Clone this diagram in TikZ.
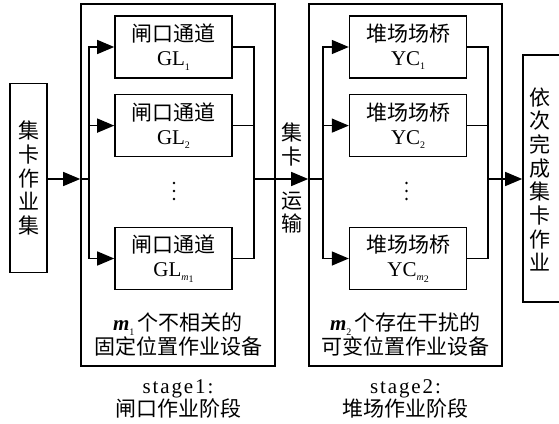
\documentclass[tikz,border=0pt]{standalone}
\usepackage{fontspec}
\setmainfont{Liberation Serif}
\newfontfamily\cjk{Noto Sans CJK SC}
\usetikzlibrary{arrows.meta}
\usetikzlibrary{positioning}

\newcommand{\lowidx}[1]{\raisebox{-0.45ex}{\fontsize{10}{10}\selectfont #1}}
\newcommand{\mcount}[1]{\textbf{\textit{m}}\raisebox{-0.45ex}{\fontsize{10}{10}\selectfont #1}\,}

\begin{document}
\begin{tikzpicture}[x=1pt,y=-1pt,
  box/.style={draw, line width=1.6pt, inner sep=0pt},
  dev/.style={box, minimum width=117pt, minimum height=62pt, align=center, font=\fontsize{21}{24}\selectfont},
  col/.style={align=center, inner sep=0pt, font=\cjk\fontsize{21}{23.7}\selectfont},
  ln/.style={line width=1.4pt},
  arr/.style={line width=1.4pt, -{Triangle[length=17pt,width=14pt]}}]
\useasboundingbox (0,0) rectangle (559,423);

% truck jobs in
\node[box, minimum width=37pt, minimum height=189pt] (jk) at (28.5,178) {};
\node[col] (jktxt) at (28.5,178) {集\\卡\\作\\业\\集};

% stage 1: gate lanes
\node[box, minimum width=194pt, minimum height=362pt] (s1) at (178,185) {};
\node[dev] (gl1) at (173.5,47) {{\cjk 闸口通道}\\GL\lowidx{1}};
\node[dev, below=15pt of gl1] (gl2) {{\cjk 闸口通道}\\GL\lowidx{2}};
\node[dev] (glm) at (173.5,258.5) {{\cjk 闸口通道}\\GL\lowidx{\textit{m}\lowidx{1}}};
\node[align=center, inner sep=0pt, font=\fontsize{21}{24}\selectfont] (lab1) at (178,335)
  {\mcount{1}{\cjk 个不相关的}\\{\cjk 固定位置作业设备}};

% stage 2: yard cranes
\node[box, minimum width=193pt, minimum height=362pt] (s2) at (405.5,185) {};
\node[dev, right=116pt of gl1] (yc1) {{\cjk 堆场场桥}\\YC\lowidx{1}};
\node[dev, right=116pt of gl2] (yc2) {{\cjk 堆场场桥}\\YC\lowidx{2}};
\node[dev, right=116pt of glm] (ycm) {{\cjk 堆场场桥}\\YC\lowidx{\textit{m}\lowidx{2}}};
\node[align=center, inner sep=0pt, font=\fontsize{21}{24}\selectfont] (lab2) at (405.5,335)
  {\mcount{2}{\cjk 个存在干扰的}\\{\cjk 可变位置作业设备}};

% stage names
\node[align=center, inner sep=0pt, font=\fontsize{21}{22}\selectfont] (st1) at (178,399)
  {{\addfontfeatures{LetterSpace=9}stage1:}\\{\cjk 闸口作业阶段}};
\node[align=center, inner sep=0pt, font=\fontsize{21}{22}\selectfont] (st2) at (405.5,399)
  {{\addfontfeatures{LetterSpace=9}stage2:}\\{\cjk 堆场作业阶段}};

% transfer between stages
\node[col] (mv1) at (292,144.5) {集\\卡};
\node[col] (mv2) at (292,212.5) {运\\输};

% finished jobs
\node[box, minimum width=44pt, minimum height=247pt] (done) at (545,178.5) {};
\node[col] (donetxt) at (540,179.5) {依\\次\\完\\成\\集\\卡\\作\\业};

\coordinate (b1l) at (89,179);
\coordinate (b1r) at (254,179);
\coordinate (b2l) at (323,179);
\coordinate (b2r) at (488,179);

\draw[arr] (jk.east |- b1l) -- (s1.west |- b1l);
\draw[ln] (s1.west |- b1l) -- (b1l);
\draw[ln, line cap=rect] (b1l |- gl1.west) -- (b1l |- glm.west);
\draw[ln, line cap=rect] (b1r |- gl1.east) -- (b1r |- glm.east);
\foreach \n in {gl1,gl2,glm} {
  \draw[arr] (b1l |- \n.west) -- (\n.west);
  \draw[ln] (\n.east) -- (b1r |- \n.east);
}
\draw[ln] (b1r) -- (s1.east |- b1r);
\draw[arr] (s1.east |- b1r) -- (s2.west |- b2l);

\draw[ln] (s2.west |- b2l) -- (b2l);
\draw[ln, line cap=rect] (b2l |- yc1.west) -- (b2l |- ycm.west);
\draw[ln, line cap=rect] (b2r |- yc1.east) -- (b2r |- ycm.east);
\foreach \n in {yc1,yc2,ycm} {
  \draw[arr] (b2l |- \n.west) -- (\n.west);
  \draw[ln] (\n.east) -- (b2r |- \n.east);
}
\draw[ln] (b2r) -- (s2.east |- b2r);
\draw[arr] (s2.east |- b2r) -- (done.west |- b2r);

% vertical dots
\foreach \y in {183,191,199} {
  \fill (174,\y) circle (1.4);
  \fill (406.5,\y) circle (1.4);
}
\end{tikzpicture}
\end{document}
